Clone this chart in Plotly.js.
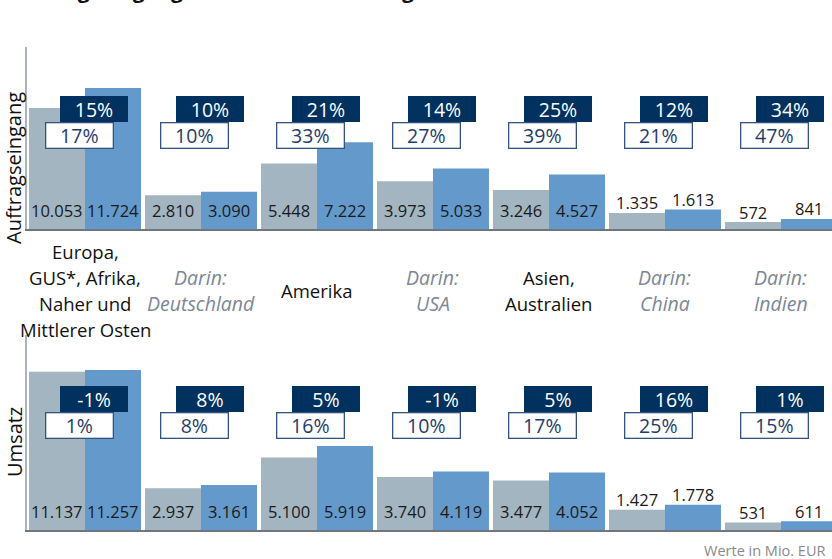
<!DOCTYPE html>
<html>
<head>
<meta charset="utf-8">
<script src="https://cdn.plot.ly/plotly-3.0.1.min.js"></script>
<style>html,body{margin:0;padding:0;background:#fff;overflow:hidden}</style>
</head>
<body>
<div id="chart" style="width:832px;height:559px"></div>
<script>
// ---------- data ----------
const chartTitle = "Auftragseingang und Umsatz nach Regionen";
const categories = [
  "Europa,<br>GUS*, Afrika,<br>Naher und<br>Mittlerer Osten",
  "Darin:<br>Deutschland",
  "Amerika",
  "Darin:<br>USA",
  "Asien,<br>Australien",
  "Darin:<br>China",
  "Darin:<br>Indien"
];
const subRegion = [false, true, false, true, false, true, true];

const ordersPrev = [10053, 2810, 5448, 3973, 3246, 1335, 572];
const ordersCurr = [11724, 3090, 7222, 5033, 4527, 1613, 841];
const ordersChgNominal = [15, 10, 21, 14, 25, 12, 34];
const ordersChgComparable = [17, 10, 33, 27, 39, 21, 47];

const salesPrev = [11137, 2937, 5100, 3740, 3477, 1427, 531];
const salesCurr = [11257, 3161, 5919, 4119, 4052, 1778, 611];
const salesChgNominal = [-1, 8, 5, -1, 5, 16, 1];
const salesChgComparable = [1, 8, 16, 10, 17, 25, 15];

const panelTitles = ["Auftragseingang", "Umsatz"];
const unitNote = "Werte in Mio. EUR";

// ---------- style / layout helpers ----------
const W = 832, H = 559, ML = 27, MR = 0;
const GREY = "#a2b5c0", BLUE = "#6499cb", NAVY = "#00315f";
const FONT = "Open Sans, Noto Sans, sans-serif";
const py = p => (H - p) / H;              // pixel row -> paper y
const px = p => (p - ML) / (W - ML - MR); // pixel col -> paper x

const panels = [
  {prev: ordersPrev, curr: ordersCurr, nom: ordersChgNominal, cmp: ordersChgComparable,
   top: 47, base: 229, max: 15130, xa: "x", ya: "y", boxY: 109, titleY: 168},
  {prev: salesPrev, curr: salesCurr, nom: salesChgNominal, cmp: salesChgComparable,
   top: 335, base: 530, max: 13730, xa: "x2", ya: "y2", boxY: 399, titleY: 442}
];

function fmt(v) {
  return String(v).replace(/\B(?=(\d{3})+(?!\d))/g, ".");
}

const idx = categories.map((_, i) => i);
const traces = [];
const annotations = [];

panels.forEach(p => {
  traces.push({type: "bar", x: idx, y: p.prev, xaxis: p.xa, yaxis: p.ya,
    marker: {color: GREY}, hoverinfo: "skip", showlegend: false});
  traces.push({type: "bar", x: idx, y: p.curr, xaxis: p.xa, yaxis: p.ya,
    marker: {color: BLUE}, hoverinfo: "skip", showlegend: false});

  const plotH = p.base - p.top;
  [[p.prev, -28], [p.curr, 28]].forEach(([vals, shift]) => {
    vals.forEach((v, i) => {
      const hpx = v * plotH / p.max;
      const inside = hpx >= 28;
      annotations.push({
        xref: p.xa, yref: p.ya, x: i, xshift: shift,
        y: inside ? 0 : v, yshift: inside ? 19 : 10,
        yanchor: "middle", xanchor: "center", showarrow: false,
        text: fmt(v), font: {family: FONT, size: 16.5, color: "#1a1a1a"}
      });
    });
  });

  p.nom.forEach((v, i) => {
    annotations.push({
      xref: p.xa, yref: "paper", x: i, xshift: 9, y: py(p.boxY),
      yanchor: "middle", showarrow: false, text: v + "%",
      width: 66, height: 24, borderpad: 0, borderwidth: 1,
      bgcolor: NAVY, bordercolor: NAVY,
      font: {family: FONT, size: 19.5, color: "#ffffff"}
    });
  });
  p.cmp.forEach((v, i) => {
    annotations.push({
      xref: p.xa, yref: "paper", x: i, xshift: -6, y: py(p.boxY + 26),
      yanchor: "middle", showarrow: false, text: v + "%",
      width: 66, height: 24, borderpad: 0, borderwidth: 1.3,
      bgcolor: "#ffffff", bordercolor: "#34547f",
      font: {family: FONT, size: 19.5, color: "#1f3d6b"}
    });
  });
});

// category labels between the panels, one annotation per line
categories.forEach((c, i) => {
  const lines = c.split("<br>");
  const n = lines.length;
  lines.forEach((ln, j) => {
    annotations.push({
      xref: "x", yref: "paper", x: i, y: py(290 + (j - (n - 1) / 2) * 26),
      yanchor: "middle", xanchor: "center", showarrow: false, text: ln,
      font: {family: FONT, size: subRegion[i] ? 19.5 : 18.5,
             color: subRegion[i] ? "#7b8797" : "#111111",
             style: subRegion[i] ? "italic" : "normal"}
    });
  });
});

// panel titles (vertical)
panels.forEach((p, k) => {
  annotations.push({
    xref: "paper", yref: "paper", x: px(14), y: py(p.titleY), textangle: -90,
    xanchor: "center", yanchor: "middle", showarrow: false, text: panelTitles[k],
    font: {family: FONT, size: 20, color: "#111111"}
  });
});

// unit note
annotations.push({
  xref: "paper", yref: "paper", x: px(827), y: py(550), xanchor: "right", yanchor: "middle",
  showarrow: false, text: unitNote, font: {family: FONT, size: 14.5, color: "#8a8a8a"}
});

// cropped chart title (only descenders visible, as in the reference)
annotations.push({
  xref: "paper", yref: "paper", x: px(8), y: py(6), xanchor: "left", yanchor: "bottom",
  showarrow: false, text: "<b>" + chartTitle + "</b>",
  font: {family: FONT, size: 21, color: "#111111"}
});

const xBase = {range: [-0.5, 6.44], showticklabels: false, ticks: "", showgrid: false,
  zeroline: false, showline: true, linecolor: "#6f7680", linewidth: 1.5, fixedrange: true};
const yBase = {showticklabels: false, ticks: "", showgrid: false, zeroline: false,
  showline: true, linecolor: "#a9b3c3", linewidth: 2, fixedrange: true};

const layout = {
  width: W, height: H,
  margin: {l: ML, r: MR, t: 0, b: 0},
  paper_bgcolor: "#ffffff", plot_bgcolor: "#ffffff",
  barmode: "group", bargap: 0.0345, bargroupgap: 0,
  xaxis: Object.assign({}, xBase, {domain: [0, 1], anchor: "y"}),
  xaxis2: Object.assign({}, xBase, {domain: [0, 1], anchor: "y2"}),
  yaxis: Object.assign({}, yBase, {domain: [py(229), py(47)], range: [0, 15130], anchor: "x"}),
  yaxis2: Object.assign({}, yBase, {domain: [py(530), py(335)], range: [0, 13730], anchor: "x2"}),
  annotations: annotations,
  showlegend: false,
  font: {family: FONT}
};

Plotly.newPlot("chart", traces, layout, {displayModeBar: false, staticPlot: true});
</script>
</body>
</html>
